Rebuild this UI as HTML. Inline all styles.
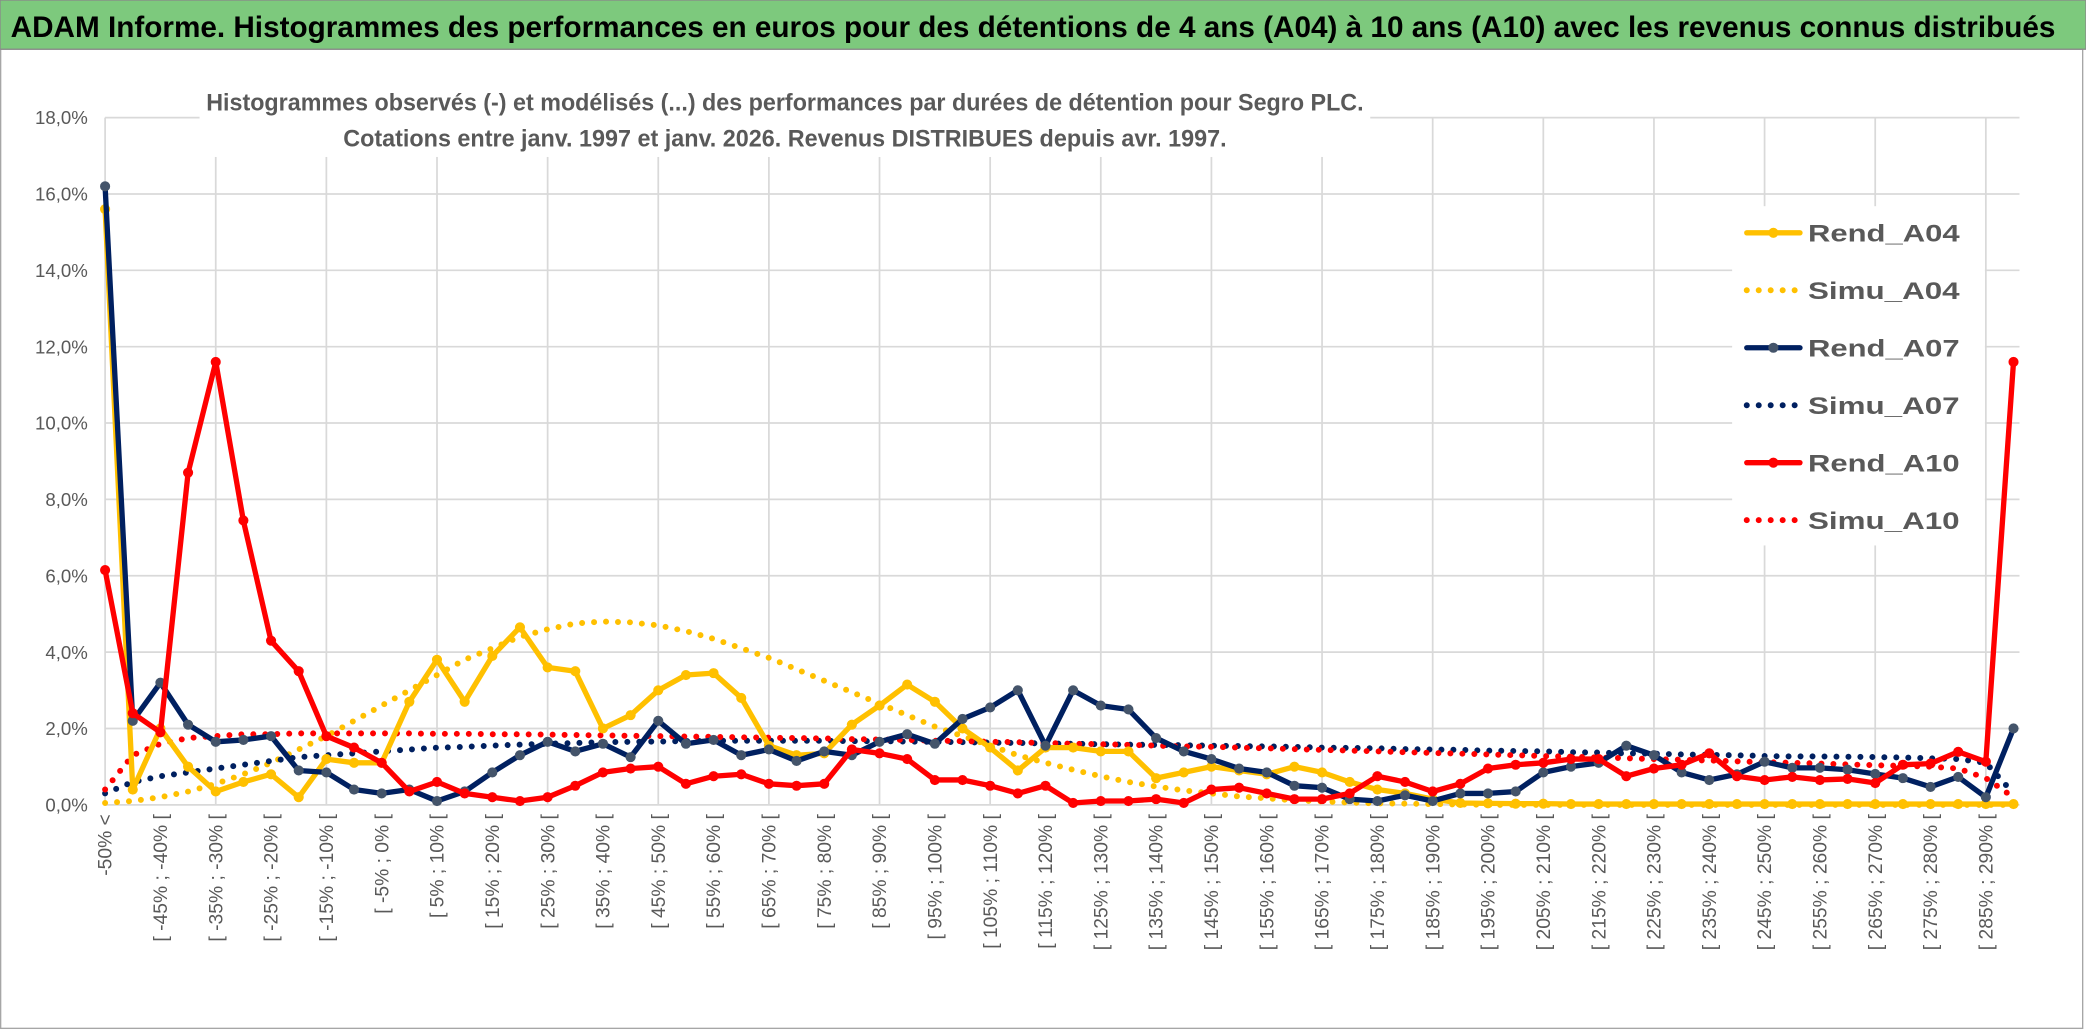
<!DOCTYPE html>
<html><head><meta charset="utf-8"><style>
html,body{margin:0;padding:0;background:#fff}
svg{display:block}
text{font-family:"Liberation Sans",sans-serif}
</style></head><body>
<svg id="chart" width="2086" height="1031" viewBox="0 0 1568 775" preserveAspectRatio="none" xmlns="http://www.w3.org/2000/svg">
<rect x="0" y="0" width="1568" height="775" fill="#fff"/>
<rect x="0.5" y="37" width="1565" height="736" fill="#fff" stroke="#a6a6a6" stroke-width="1"/>
<rect x="0" y="0" width="1568" height="37" fill="#7dc97d" stroke="#8a8a8a" stroke-width="1"/>
<text x="8" y="28" font-size="22" font-weight="bold" fill="#000" textLength="1537" lengthAdjust="spacingAndGlyphs">ADAM Informe. Histogrammes des performances en euros pour des détentions de 4 ans (A04) à 10 ans (A10) avec les revenus connus distribués</text>
<g id="grid"></g>
<g id="yaxis"></g>
<g id="xaxis"></g>
<rect x="150" y="58" width="880" height="60" fill="#fff"/>
<text x="590" y="83" font-size="18" font-weight="bold" fill="#595959" text-anchor="middle" textLength="870" lengthAdjust="spacingAndGlyphs">Histogrammes observés (-) et modélisés (...) des performances par durées de détention pour Segro PLC.</text>
<text x="590" y="110" font-size="18" font-weight="bold" fill="#595959" text-anchor="middle" textLength="664" lengthAdjust="spacingAndGlyphs">Cotations entre janv. 1997 et janv. 2026. Revenus DISTRIBUES depuis avr. 1997.</text>
<g id="series"></g>
<g id="legend"></g>
</svg>
<script>
const categoriesStart = -50;
const yTicks = [0,2,4,6,8,10,12,14,16,18];
const rendA04 = [15.6,0.4,2.0,1.0,0.35,0.6,0.8,0.2,1.2,1.1, 1.1,2.7,3.8,2.7,3.9,4.65,3.6,3.5,2.0,2.35, 3.0,3.4,3.45,2.8,1.55,1.3,1.35,2.1,2.6,3.15, 2.7,2.0,1.5,0.9,1.5,1.5,1.4,1.4,0.7,0.85, 1.0,0.9,0.8,1.0,0.85,0.6,0.4,0.3,0.15,0.05, 0.04,0.03,0.03,0.02,0.02,0.02,0.02,0.02,0.02,0.02, 0.02,0.02,0.02,0.02,0.02,0.02,0.02,0.02,0.02,0.02];
const simuA04 = [0.05,0.1,0.2,0.35,0.55,0.8,1.1,1.45,1.8,2.2, 2.6,3.0,3.4,3.8,4.1,4.4,4.6,4.75,4.8,4.78, 4.7,4.55,4.35,4.1,3.85,3.55,3.25,2.95,2.65,2.35, 2.05,1.8,1.55,1.3,1.1,0.92,0.75,0.6,0.48,0.38, 0.3,0.22,0.17,0.12,0.09,0.06,0.04,0.03,0.02,0.01, 0,0,0,0,0,0,0,0,0,0, 0,0,0,0,0,0,0,0,0,0];
const rendA07 = [16.2,2.2,3.2,2.1,1.65,1.7,1.8,0.9,0.85,0.4, 0.3,0.4,0.1,0.35,0.85,1.3,1.65,1.4,1.6,1.25, 2.2,1.6,1.7,1.3,1.45,1.15,1.4,1.3,1.65,1.85, 1.6,2.25,2.55,3.0,1.55,3.0,2.6,2.5,1.75,1.4, 1.2,0.95,0.85,0.5,0.45,0.15,0.1,0.25,0.1,0.3, 0.3,0.35,0.85,1.0,1.1,1.55,1.3,0.85,0.65,0.8, 1.13,0.97,0.97,0.92,0.81,0.7,0.47,0.73,0.2,2.0];
const simuA07 = [0.3,0.6,0.75,0.85,0.95,1.05,1.15,1.25,1.3,1.35, 1.4,1.45,1.5,1.52,1.55,1.58,1.6,1.62,1.64,1.65, 1.66,1.67,1.68,1.68,1.68,1.68,1.68,1.67,1.67,1.66, 1.65,1.64,1.63,1.62,1.61,1.6,1.59,1.58,1.57,1.56, 1.55,1.54,1.53,1.52,1.5,1.49,1.48,1.46,1.45,1.44, 1.42,1.41,1.4,1.38,1.37,1.35,1.34,1.32,1.31,1.3, 1.28,1.27,1.27,1.26,1.25,1.24,1.22,1.2,1.1,0.3];
const rendA10 = [6.15,2.4,1.9,8.7,11.6,7.45,4.3,3.5,1.8,1.5, 1.1,0.35,0.6,0.3,0.2,0.1,0.2,0.5,0.85,0.95, 1.0,0.55,0.75,0.8,0.55,0.5,0.55,1.45,1.35,1.2, 0.65,0.65,0.5,0.3,0.5,0.05,0.1,0.1,0.15,0.05, 0.4,0.45,0.3,0.15,0.15,0.3,0.75,0.6,0.35,0.55, 0.95,1.05,1.1,1.2,1.2,0.75,0.95,1.05,1.35,0.75, 0.65,0.73,0.65,0.68,0.57,1.05,1.08,1.39,1.13,11.6];
const simuA10 = [0.4,1.3,1.6,1.75,1.8,1.85,1.85,1.87,1.87,1.87, 1.87,1.87,1.86,1.86,1.85,1.85,1.84,1.83,1.82,1.81, 1.8,1.79,1.78,1.77,1.76,1.75,1.74,1.72,1.71,1.7, 1.68,1.67,1.65,1.64,1.62,1.6,1.59,1.57,1.55,1.53, 1.52,1.5,1.48,1.46,1.44,1.42,1.4,1.38,1.36,1.34, 1.32,1.3,1.28,1.26,1.24,1.22,1.2,1.18,1.16,1.14, 1.12,1.1,1.08,1.06,1.04,1.02,1.0,0.95,0.7,0.2];
const seriesNames = ["Rend_A04","Simu_A04","Rend_A07","Simu_A07","Rend_A10","Simu_A10"];

const NS = "http://www.w3.org/2000/svg";
const X0 = 79, STEP = 20.79, Y0 = 605, PER = 28.7, XR = 1518;
const nCat = rendA04.length;
const xs = i => X0 + i * STEP;
const ys = v => Y0 - v * PER;
function mk(tag, attrs, parent){const e=document.createElementNS(NS,tag);for(const k in attrs)e.setAttribute(k,attrs[k]);parent.appendChild(e);return e;}
function catLabel(i){ if(i===0) return "-50% <"; const a=categoriesStart-5+5*i; return "[ "+a+"% ; "+(a+5)+"% ["; }

const grid=document.getElementById('grid'), yax=document.getElementById('yaxis'), xax=document.getElementById('xaxis');
yTicks.forEach(t=>{
  const l=mk('line',{x1:X0,x2:XR,y1:ys(t),y2:ys(t),stroke:'#d9d9d9','stroke-width':1.3},grid);
  
  
  const tx=mk('text',{x:66,y:ys(t)+5,'font-size':14,fill:'#595959','text-anchor':'end'},yax);
  tx.textContent=t.toFixed(1).replace('.',',')+'%';
  
  
});
for(let i=0;i<nCat;i+=4){
  const l=mk('line',{x1:xs(i),x2:xs(i),y1:ys(18),y2:Y0,stroke:'#d9d9d9','stroke-width':1.3},grid);
  
  
}
for(let i=0;i<nCat;i+=2){
  const x=xs(i)+5, y=612;
  const tx=mk('text',{x:x,y:y,'font-size':14.5,fill:'#595959','text-anchor':'end',transform:`rotate(-90 ${x} ${y})`},xax);
  tx.textContent=catLabel(i);
  
  
}

const sg=document.getElementById('series');
function drawSeries(vals,color,dotted,marker,name){
  const g=mk('g',{},sg);
  
  
  const pts=vals.map((v,i)=>xs(i).toFixed(1)+','+ys(v).toFixed(1)).join(' ');
  const pl=mk('polyline',{points:pts,fill:'none',stroke:color,'stroke-width':dotted?4.5:4,'stroke-linecap':'round','stroke-linejoin':'round'},g);
  if(dotted){pl.setAttribute('stroke-dasharray','0 9');}
  
  
  if(!dotted){vals.forEach((v,i)=>{
    const c=mk('circle',{cx:xs(i),cy:ys(v),r:3.8,fill:marker},g);
    
    
  });}
}
drawSeries(simuA04,'#FFC000',true,null,'simu-a04');
drawSeries(simuA07,'#002060',true,null,'simu-a07');
drawSeries(simuA10,'#FF0000',true,null,'simu-a10');
drawSeries(rendA04,'#FFC000',false,'#FFC000','rend-a04');
drawSeries(rendA07,'#002060',false,'#44546A','rend-a07');
drawSeries(rendA10,'#FF0000',false,'#FF0000','rend-a10');

const lg=document.getElementById('legend');
mk('rect',{x:1302,y:155,width:190,height:255,fill:'#fff'},lg);
const lcol=['#FFC000','#FFC000','#002060','#002060','#FF0000','#FF0000'];
const lmk=['#FFC000',null,'#44546A',null,'#FF0000',null];
seriesNames.forEach((n,k)=>{
  const y=175+43.2*k;
  const e=mk('g',{},lg);
  
  
  const l=mk('line',{x1:1313,x2:1353,y1:y,y2:y,stroke:lcol[k],'stroke-width':k%2?4.5:4,'stroke-linecap':'round'},e);
  if(k%2){l.setAttribute('stroke-dasharray','0 9');}
  if(lmk[k]) mk('circle',{cx:1333,cy:y,r:3.8,fill:lmk[k]},e);
  const t=mk('text',{x:1359,y:y+6.5,'font-size':18,'font-weight':'bold',fill:'#595959',textLength:114,lengthAdjust:'spacingAndGlyphs'},e);
  t.textContent=n;
});
</script>
</body></html>
